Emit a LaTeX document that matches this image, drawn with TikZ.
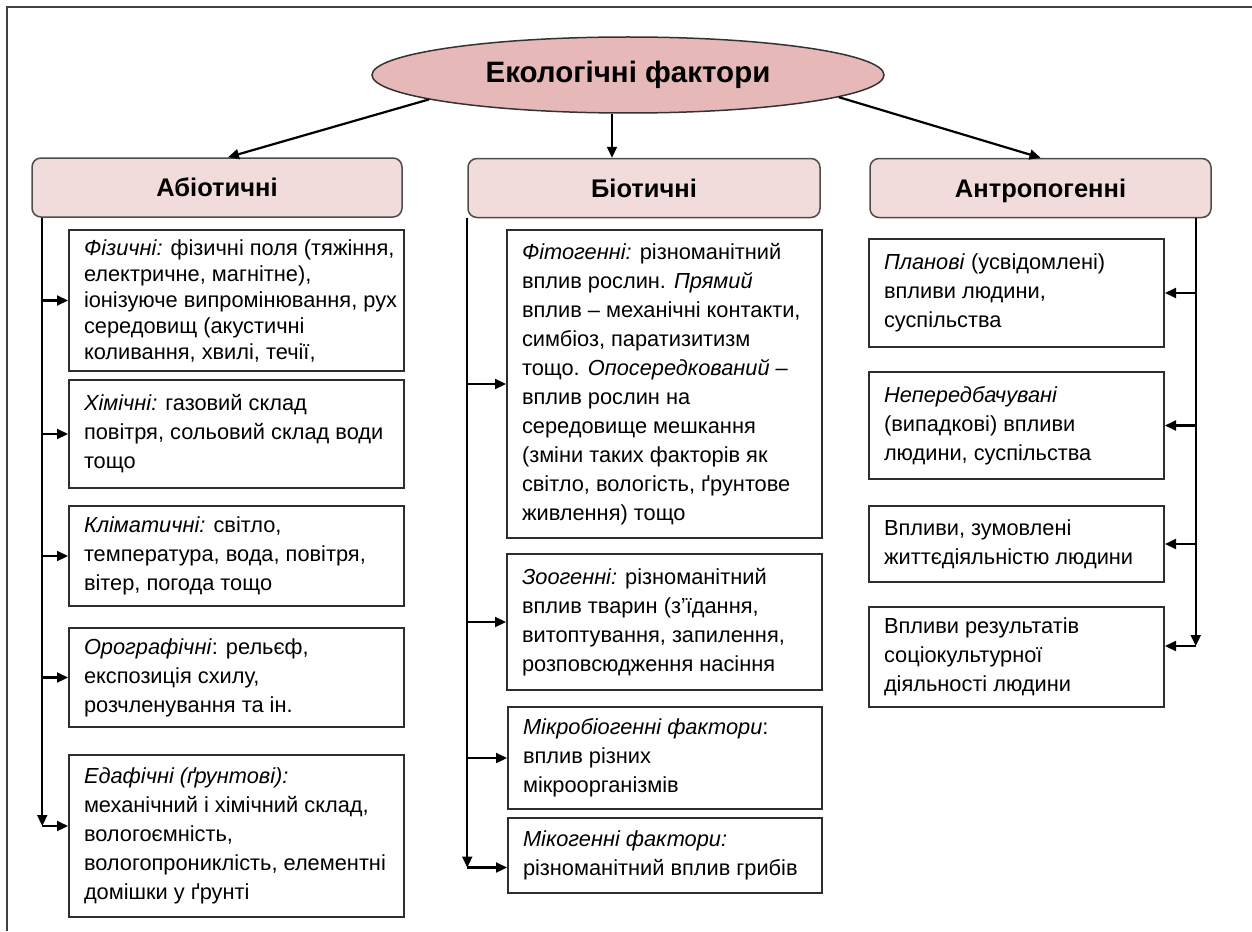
\documentclass[tikz,border=0pt]{standalone}
\usepackage{fontspec}
\setmainfont{Liberation Sans}
\usetikzlibrary{shapes.geometric,arrows.meta}
\definecolor{titlefill}{HTML}{E6B9B8}
\definecolor{headfill}{HTML}{F2DCDB}
\definecolor{boxline}{HTML}{2E2E2E}
\newcommand{\boxtext}[2]{\hspace*{15pt}\parbox{#1pt}{\raggedright #2}}
\tikzset{factor/.style 2 args={draw=boxline,line width=2pt,anchor=north west,inner sep=0pt,
        minimum width=#1pt,minimum height=#2pt,font=\fontsize{21.8}{29}\selectfont},
    head/.style={draw=black!70,line width=1.5pt,fill=headfill,rounded corners=9pt,text height=18pt,text depth=0pt,
        minimum width=#1pt,minimum height=59pt,font=\fontsize{25.5}{28}\selectfont\bfseries},
    conn/.style={-{Triangle[length=11pt,width=10pt]},line width=2.2pt,draw=black}}
\begin{document}
\begin{tikzpicture}[x=1pt,y=-1pt]
\useasboundingbox (0,0) rectangle (1252,931);
\draw[black!75,line width=1.6pt] (7,931) -- (7,7) -- (1252,7);
% title and the three groups
\node[ellipse,draw=black!80,line width=1.5pt,fill=titlefill,minimum width=512pt,minimum height=76pt,
      inner sep=0pt,font=\fontsize{29.5}{32}\selectfont\bfseries] (title) at (628,75) {Екологічні фактори};
\node[head=370] (abio) at (217,187.5) {Абіотичні};
\node[head=352] (bio) at (644,188) {Біотичні};
\node[head=341] (anthro) at (1040.5,188) {Антропогенні};
\draw[conn] (title.187) -- ([xshift=11pt]abio.north);
\draw[conn] ([xshift=-16pt]title.south) -- ([xshift=-16pt]title.south |- bio.north);
\draw[conn] (title.-6.5) -- (anthro.north);
% abiotic
\node[factor={335}{141},font=\fontsize{21.8}{26}\selectfont] (phys) at (68,229) {\boxtext{320}{\textit{Фізичні:} фізичні поля (тяжіння,\\
  електричне, магнітне),\\ іонізуюче випромінювання, рух\\ середовищ (акустичні\\ коливання, хвилі, течії,}};
\node[factor={335}{108}] (chem) at (68,379) {\boxtext{320}{\textit{Хімічні:} газовий склад\\ повітря, сольовий склад води\\ тощо}};
\node[factor={335}{100}] (clim) at (68,505) {\boxtext{320}{\textit{Кліматичні:} світло,\\ температура, вода, повітря,\\ вітер, погода тощо}};
\node[factor={335}{99}] (oro) at (68,627) {\boxtext{320}{\textit{Орографічні}: рельєф,\\ експозиція схилу,\\ розчленування та ін.}};
\node[factor={335}{162}] (edaph) at (68,754) {\boxtext{320}{\textit{Едафічні (ґрунтові):}\\ механічний і хімічний склад,\\
  вологоємність,\\ вологопроникліcть, елементні\\ домішки у ґрунті}};
% biotic
\node[factor={315}{308}] (phyto) at (506,229) {\boxtext{300}{\textit{Фітогенні:} різноманітний\\ вплив рослин. \textit{Прямий}\\
  вплив – механічні контакти,\\ симбіоз, паратизитизм\\ тощо. \textit{Опосередкований} –\\ вплив рослин на\\
  середовище мешкання\\ (зміни таких факторів як\\ світло, вологість, ґрунтове\\ живлення) тощо}};
\node[factor={315}{136}] (zoo) at (506,553) {\boxtext{300}{\textit{Зоогенні:} різноманітний\\ вплив тварин (з’їдання,\\
  витоптування, запилення,\\ розповсюдження насіння}};
\node[factor={314}{102}] (micro) at (507,706) {\boxtext{299}{\textit{Мікробіогенні фактори}:\\ вплив різних\\ мікроорганізмів}};
\node[factor={314}{75}] (myco) at (507,817) {\boxtext{299}{\textit{Мікогенні фактори:}\\ різноманітний вплив грибів}};
% anthropogenic
\node[factor={295}{108}] (plan) at (868,238) {\boxtext{280}{\textit{Планові} (усвідомлені)\\ впливи людини,\\ суспільства}};
\node[factor={295}{107}] (unpred) at (868,371) {\boxtext{280}{\textit{Непередбачувані}\\ (випадкові) впливи\\ людини, суспільства}};
\node[factor={295}{76}] (life) at (868,505) {\boxtext{280}{Впливи, зумовлені\\ життєдіяльністю людини}};
\node[factor={295}{100}] (socio) at (868,606) {\boxtext{280}{Впливи результатів\\ соціокультурної\\ діяльності людини}};
% trunks and branches
\coordinate (ltop) at ([xshift=11pt]abio.south west);
\path (ltop |- edaph.west) ++(0,-10) coordinate (lbot);
\draw[conn] (ltop) -- (lbot);
\draw[conn] (lbot) -- (lbot -| edaph.west);
\foreach \n in {phys,chem,clim,oro} \draw[conn] (ltop |- \n.west) -- (\n.west);
\coordinate (mtop) at (bio.south west);
\path (mtop |- myco.west) ++(0,12) coordinate (mbot);
\draw[conn] (mtop) -- (mbot);
\draw[conn] (mbot) -- (mbot -| myco.west);
\foreach \n in {phyto,zoo,micro} \draw[conn] (mtop |- \n.west) -- (\n.west);
\coordinate (rtop) at ([xshift=-16pt]anthro.south east);
\path (rtop |- socio.east) ++(0,-11) coordinate (rbot);
\draw[conn] (rtop) -- (rbot);
\draw[conn] (rbot) -- (rbot -| socio.east);
\foreach \n in {plan,unpred,life} \draw[conn] (rtop |- \n.east) -- (\n.east);
\end{tikzpicture}
\end{document}
